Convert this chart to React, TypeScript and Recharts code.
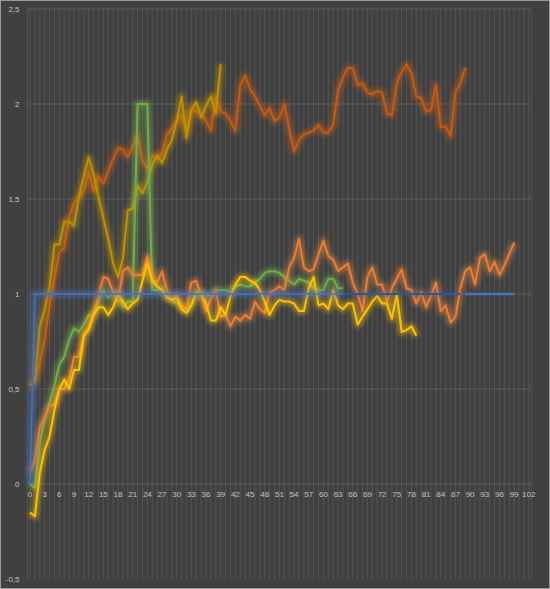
import React from 'react';
import { LineChart, Line, XAxis, YAxis, CartesianGrid } from 'recharts';

// ---------- data ----------
const categories = [
  0, 1, 2, 3, 4, 5, 6, 7, 8, 9, 10, 11, 12, 13, 14, 15, 16, 17, 18, 19, 20,
  21, 22, 23, 24, 25, 26, 27, 28, 29, 30, 31, 32, 33, 34, 35, 36, 37, 38, 39, 40,
  41, 42, 43, 44, 45, 46, 47, 48, 49, 50, 51, 52, 53, 54, 55, 56, 57, 58, 59, 60,
  61, 62, 63, 64, 65, 66, 67, 68, 69, 70, 71, 72, 73, 74, 75, 76, 77, 78, 79, 80,
  81, 82, 83, 84, 85, 86, 87, 88, 89, 90, 91, 92, 93, 94, 95, 96, 97, 98, 99, 100,
  101, 102,
];

const yTicks = [-0.5, 0, 0.5, 1, 1.5, 2, 2.5];
const gridValues = [0, 0.5, 1, 1.5, 2, 2.5];

const darkOrangeSeries = [
  0.52, 0.54, 0.64, 0.76, 0.94, 1.08, 1.22, 1.24, 1.41, 1.48,
  1.51, 1.54, 1.64, 1.54, 1.62, 1.58, 1.65, 1.71, 1.77, 1.76,
  1.72, 1.78, 1.84, 1.70, 1.66, 1.73, 1.71, 1.74, 1.84, 1.87,
  1.91, 1.94, 1.86, 1.97, 1.96, 1.95, 1.91, 1.86, 2.04, 1.96,
  1.95, 1.91, 1.86, 2.10, 2.15, 2.08, 2.04, 1.99, 1.94, 1.98,
  1.91, 1.93, 2.00, 1.87, 1.75, 1.81, 1.84, 1.85, 1.86, 1.89,
  1.85, 1.85, 1.89, 2.07, 2.14, 2.19, 2.19, 2.10, 2.11, 2.06,
  2.05, 2.07, 2.06, 1.95, 1.94, 2.11, 2.17, 2.21, 2.16, 2.04,
  2.03, 1.96, 1.97, 2.10, 1.88, 1.88, 1.83, 2.06, 2.11, 2.19,
];

const goldSeries = [
  0.52, 0.54, 0.83, 0.92, 1.04, 1.26, 1.26, 1.38, 1.38, 1.36,
  1.51, 1.62, 1.72, 1.63, 1.51, 1.40, 1.29, 1.16, 1.09, 1.19,
  1.44, 1.45, 1.57, 1.53, 1.59, 1.68, 1.73, 1.69, 1.76, 1.81,
  1.91, 2.04, 1.82, 1.97, 2.01, 1.93, 1.99, 2.04, 1.95, 2.21,
];

const greenSeries = [
  0.00, -0.02, 0.22, 0.34, 0.43, 0.52, 0.63, 0.67, 0.76, 0.82,
  0.80, 0.84, 0.89, 0.89, 0.96, 1.02, 0.98, 1.01, 1.00, 0.93,
  0.96, 0.96, 2.00, 2.00, 2.00, 1.02, 1.02, 1.03, 0.99, 0.97,
  0.95, 0.94, 0.92, 0.95, 1.00, 1.00, 1.00, 0.99, 1.02, 1.02,
  1.02, 1.01, 1.04, 1.05, 1.04, 1.04, 1.06, 1.08, 1.11, 1.12,
  1.12, 1.11, 1.09, 1.07, 1.05, 1.08, 1.07, 1.06, 1.03, 1.02,
  1.02, 1.08, 1.08, 1.03, 1.03,
];

const orangeSeries = [
  0.06, 0.13, 0.30, 0.35, 0.41, 0.42, 0.50, 0.50, 0.55, 0.67,
  0.67, 0.79, 0.83, 0.90, 0.99, 1.09, 1.08, 1.01, 0.96, 1.12,
  1.14, 1.10, 1.10, 1.10, 1.20, 1.08, 1.06, 1.12, 1.02, 0.97,
  1.00, 0.93, 0.92, 1.06, 1.07, 0.99, 0.91, 0.98, 1.02, 0.88,
  0.89, 0.83, 0.88, 0.86, 0.89, 0.87, 0.96, 0.92, 0.90, 1.01,
  1.02, 1.04, 1.02, 1.14, 1.19, 1.29, 1.14, 1.12, 1.13, 1.21,
  1.28, 1.20, 1.18, 1.12, 1.14, 1.16, 1.06, 1.00, 0.91, 1.09,
  1.14, 1.05, 1.05, 0.96, 1.03, 1.08, 1.13, 1.03, 1.02, 0.95,
  1.01, 0.93, 0.99, 1.06, 0.91, 0.94, 0.85, 0.88, 1.03, 1.12,
  1.14, 1.05, 1.19, 1.21, 1.12, 1.17, 1.10, 1.15, 1.21, 1.27,
];

const yellowSeries = [
  -0.15, -0.17, 0.06, 0.18, 0.25, 0.39, 0.50, 0.55, 0.50, 0.60,
  0.60, 0.78, 0.81, 0.89, 0.93, 0.93, 0.89, 0.93, 1.00, 0.96,
  0.92, 0.95, 0.97, 1.07, 1.16, 1.07, 1.04, 1.02, 0.98, 0.97,
  0.98, 0.92, 0.90, 0.94, 1.01, 1.00, 0.95, 0.86, 0.86, 0.93,
  0.89, 0.99, 1.05, 1.09, 1.09, 1.07, 1.06, 1.02, 0.96, 0.89,
  0.94, 0.97, 0.96, 0.96, 0.95, 0.91, 0.91, 1.03, 1.09, 0.94,
  0.95, 0.92, 1.02, 0.94, 0.92, 0.95, 0.95, 0.84, 0.88, 0.92,
  0.96, 0.99, 0.95, 0.95, 0.87, 1.00, 0.80, 0.81, 0.83, 0.78,
];

// target line (blue), split in three drawn parts
const blueEarly = [
  0, 1, 1, 1, 1, 1, 1, 1, 1, 1, 1, 1, 1, 1, 1, 1, 1, 1, 1, 1, 1, 1, 1, 1, 1,
  1, 1, 1, 1, 1, 1, 1, 1, 1, 1, 1, 1, 1, 1, 1, 1, 1, 1, 1, 1, 1, 1, 1, 1, 1,
  1, 1, 1, 1, 1, 1, 1, 1, 1, 1, 1, 1, 1, 1, 1,
];
const blueMidStart = 64;
const blueMid = [1, 1, 1, 1, 1, 1, 1, 1, 1, 1, 1, 1, 1, 1, 1, 1, 1, 1, 1, 1, 1, 1, 1, 1, 1];
const blueLateStart = 89;
const blueLate = [1, 1, 1, 1, 1, 1, 1, 1, 1, 1, 1];

const pick = (arr: number[], i: number, start = 0) => {
  const v = arr[i - start];
  return v === undefined ? null : v;
};

const data = categories.map((c, i) => ({
  x: c,
  darkOrange: pick(darkOrangeSeries, i),
  gold: pick(goldSeries, i),
  green: pick(greenSeries, i),
  orange: pick(orangeSeries, i),
  yellow: pick(yellowSeries, i),
  blueEarly: pick(blueEarly, i),
  blueMid: pick(blueMid, i, blueMidStart),
  blueLate: pick(blueLate, i, blueLateStart),
}));

// ---------- layout ----------
const W = 550;
const H = 589;
const MARGIN = { top: 9, right: 18.75, bottom: 0, left: 0 };
const Y_AXIS_W = 27.55;
const X_AXIS_H = 10;
const Y_MIN = -0.5;
const Y_MAX = 2.5;
const PLOT_H = H - MARGIN.top - MARGIN.bottom - X_AXIS_H;
const ZERO_Y = MARGIN.top + (PLOT_H * (Y_MAX - 0)) / (Y_MAX - Y_MIN);
const FONT = '"Liberation Sans", Arial, sans-serif';
const LABEL = '#c4c4c4';

const XTick = (props: any) => {
  const { x, payload } = props;
  if (Number(payload.value) % 3 !== 0) return <g />;
  return (
    <text x={x} y={ZERO_Y + 13} textAnchor="middle" fontSize={8} fill={LABEL} fontFamily={FONT}>
      {payload.value}
    </text>
  );
};

const series = (key: string, color: string, glowColor: string, width: number, glowWidth: number, glowOpacity: number) => [
  glowWidth > 0 ? (
    <Line
      key={key + '-glow'}
      type="linear"
      dataKey={key}
      className="glow"
      stroke={glowColor}
      strokeWidth={glowWidth}
      strokeOpacity={glowOpacity}
      strokeLinejoin="round"
      dot={false}
      activeDot={false}
      isAnimationActive={false}
    />
  ) : null,
  <Line
    key={key}
    type="linear"
    dataKey={key}
    stroke={color}
    strokeWidth={width}
    strokeLinejoin="round"
    dot={false}
    activeDot={false}
    isAnimationActive={false}
  />,
];

export default function App() {
  return (
    <div style={{ position: 'absolute', left: 0, top: 0, width: W, height: H, background: '#404040' }}>
      <style>{`.glow path{filter:blur(2px);}`}</style>
      <LineChart width={W} height={H} data={data} margin={MARGIN}>
        <CartesianGrid horizontal={false} vertical stroke="#535353" strokeWidth={1} />
        <CartesianGrid horizontal vertical={false} horizontalValues={gridValues} stroke="#5c5c5c" strokeWidth={1} />
        <XAxis
          dataKey="x"
          type="category"
          interval={0}
          height={X_AXIS_H}
          axisLine={false}
          tickLine={false}
          padding={{ left: 2.45, right: 2.45 }}
          tick={<XTick />}
        />
        <YAxis
          type="number"
          domain={[Y_MIN, Y_MAX]}
          ticks={yTicks}
          width={Y_AXIS_W}
          axisLine={false}
          tickLine={false}
          tickSize={0}
          tickMargin={8}
          tickFormatter={(v: number) => String(v).replace('.', ',')}
          tick={{ fill: LABEL, fontSize: 8, fontFamily: FONT }}
        />
        {series('darkOrange', '#C55A11', '#D0601A', 2, 7, 0.45)}
        {series('gold', '#BF9000', '#C89800', 2, 7, 0.45)}
        {series('green', '#70AD47', '#7CBF50', 2, 7, 0.45)}
        {series('orange', '#ED7D31', '#F08A40', 2, 7, 0.45)}
        {series('yellow', '#FFC000', '#FFC800', 2, 7, 0.45)}
        {series('blueEarly', '#5070A8', '#4472C4', 1.5, 8, 0.45)}
        {series('blueMid', '#2F5597', '#2F5597', 2, 4, 0.35)}
        {series('blueLate', '#4472C4', '#4472C4', 2.5, 0, 0)}
      </LineChart>
      <div
        style={{
          position: 'absolute',
          left: 0,
          top: 0,
          width: W,
          height: H,
          boxSizing: 'border-box',
          border: '1px solid #9a9a9a',
          pointerEvents: 'none',
        }}
      />
    </div>
  );
}
